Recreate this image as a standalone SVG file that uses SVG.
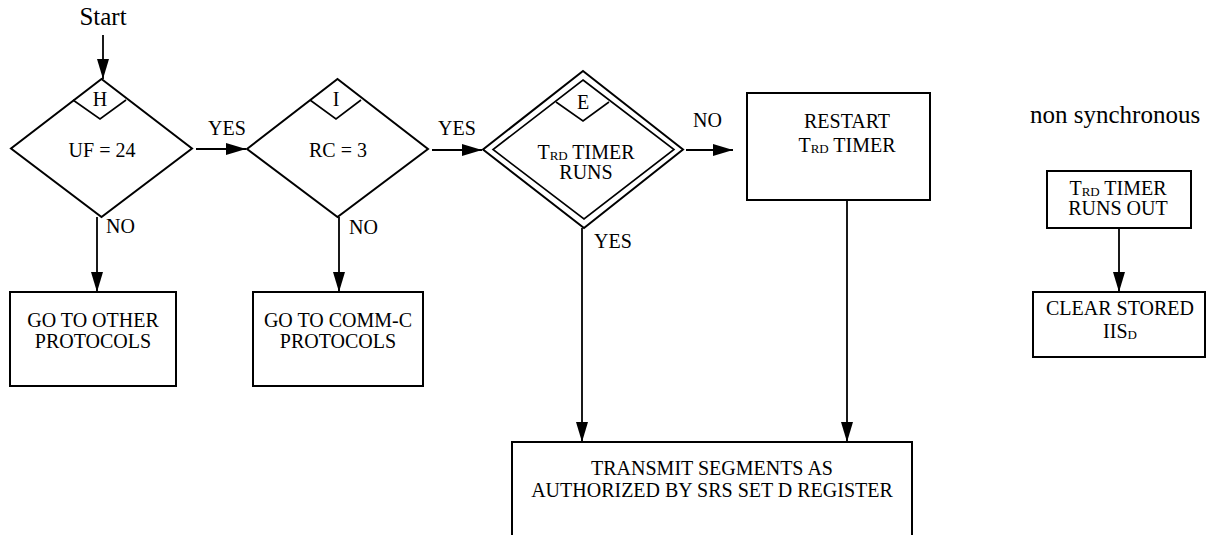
<svg xmlns="http://www.w3.org/2000/svg" width="1217" height="535" viewBox="0 0 1217 535">
<style>
text{font-family:"Liberation Serif","Times New Roman",serif;fill:#000;font-size:20px}
.c{text-anchor:middle}
.big{font-size:25px}
.sub{font-size:13px}
.shape{fill:#fff;stroke:#000;stroke-width:2}
.thin{fill:none;stroke:#000;stroke-width:1.6}
.line{fill:none;stroke:#000;stroke-width:1.8}
</style>
<defs>
<marker id="arr" viewBox="0 0 20 12" refX="20" refY="6" markerWidth="20" markerHeight="12" markerUnits="userSpaceOnUse" orient="auto">
<path d="M0,0 L20,6 L0,12 Z" fill="#000"/>
</marker>
</defs>

<g id="start">
<text class="c big" x="103" y="25">Start</text>
</g>

<g id="nodeH">
<polygon class="shape" points="101.5,79 192,148.5 101.5,217 11,148.5"/>
<polyline class="thin" points="73,100 100,119 126,100"/>
<text class="c" x="100" y="106">H</text>
<text class="c" x="102" y="157">UF = 24</text>
</g>

<g id="nodeI">
<polygon class="shape" points="337.5,79 428,149 337.5,217 247,149"/>
<polyline class="thin" points="310,100 336,119 361,100"/>
<text class="c" x="336" y="106">I</text>
<text class="c" x="338" y="157">RC = 3</text>
</g>

<g id="nodeE">
<polygon class="shape" points="583,71 683,149.5 584,228 483,149.5"/>
<polygon class="thin" points="583,80 674,149.5 584,219 493,149.5"/>
<polyline class="thin" points="556,102 583,121 609,102"/>
<text class="c" x="583" y="109">E</text>
<text class="c" x="586" y="159">T<tspan class="sub" dy="1">RD</tspan><tspan dy="-1"> TIMER</tspan></text>
<text class="c" x="586" y="179">RUNS</text>
</g>

<g id="restart">
<rect class="shape" x="747" y="93" width="183" height="107"/>
<text class="c" x="847" y="128">RESTART</text>
<text class="c" x="847" y="152">T<tspan class="sub" dy="1">RD</tspan><tspan dy="-1"> TIMER</tspan></text>
</g>

<g id="otherProtocols">
<rect class="shape" x="10" y="292" width="166" height="94"/>
<text class="c" x="93" y="327">GO TO OTHER</text>
<text class="c" x="93" y="348">PROTOCOLS</text>
</g>

<g id="commCProtocols">
<rect class="shape" x="253" y="292" width="170" height="94"/>
<text class="c" x="338" y="327">GO TO COMM-C</text>
<text class="c" x="338" y="348">PROTOCOLS</text>
</g>

<g id="transmit">
<rect class="shape" x="512" y="442" width="400" height="100"/>
<text class="c" x="712" y="475">TRANSMIT SEGMENTS AS</text>
<text class="c" x="712" y="497">AUTHORIZED BY SRS SET D REGISTER</text>
</g>

<g id="nonSync">
<text class="big" x="1030" y="123">non synchronous</text>
</g>

<g id="timerRunsOut">
<rect class="shape" x="1047" y="171" width="144" height="57"/>
<text class="c" x="1118" y="195">T<tspan class="sub" dy="1">RD</tspan><tspan dy="-1"> TIMER</tspan></text>
<text class="c" x="1118" y="215">RUNS OUT</text>
</g>

<g id="clearStored">
<rect class="shape" x="1033" y="292" width="172" height="65"/>
<text class="c" x="1120" y="315">CLEAR STORED</text>
<text class="c" x="1120" y="338">IIS<tspan class="sub" dy="1">D</tspan></text>
</g>

<g id="connectors">
<line class="line" x1="103" y1="35" x2="103" y2="79" marker-end="url(#arr)"/>
<line class="line" x1="196" y1="149" x2="246" y2="149" marker-end="url(#arr)"/>
<line class="line" x1="432" y1="150" x2="482" y2="150" marker-end="url(#arr)"/>
<line class="line" x1="686" y1="150" x2="733" y2="150" marker-end="url(#arr)"/>
<line class="line" x1="97" y1="217" x2="97" y2="292" marker-end="url(#arr)"/>
<line class="line" x1="339" y1="217" x2="339" y2="292" marker-end="url(#arr)"/>
<line class="line" x1="582" y1="228" x2="582" y2="442" marker-end="url(#arr)"/>
<line class="line" x1="847" y1="200" x2="847" y2="442" marker-end="url(#arr)"/>
<line class="line" x1="1119" y1="228" x2="1119" y2="292" marker-end="url(#arr)"/>
<text x="208" y="135">YES</text>
<text x="438" y="135">YES</text>
<text x="693" y="127">NO</text>
<text x="106" y="233">NO</text>
<text x="349" y="234">NO</text>
<text x="594" y="248">YES</text>
</g>
</svg>
